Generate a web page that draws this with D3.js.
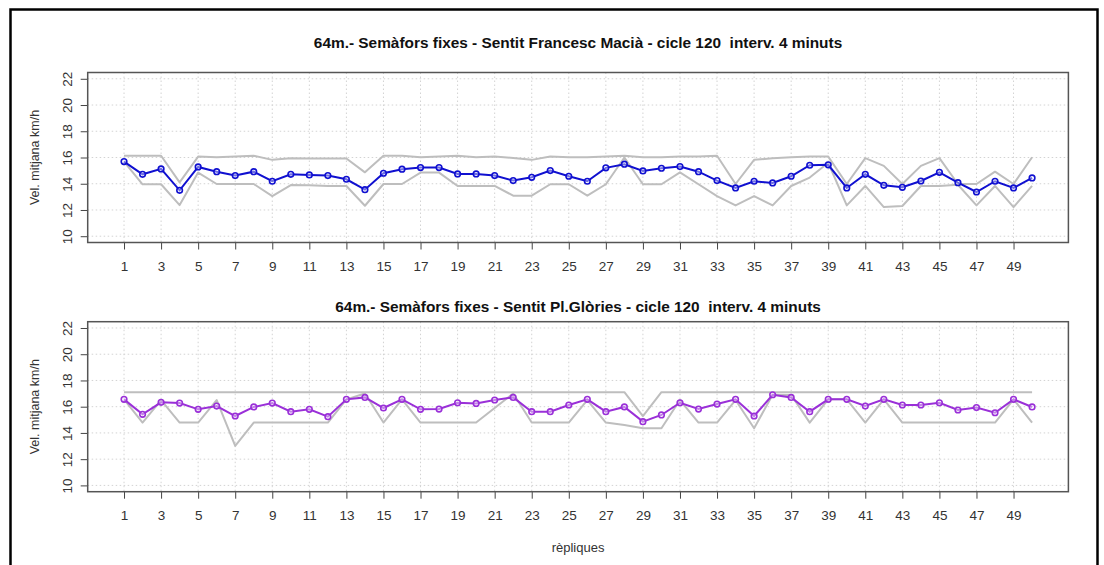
<!DOCTYPE html>
<html>
<head>
<meta charset="utf-8">
<script src="https://cdn.jsdelivr.net/npm/d3@7"></script>
<style>
  html, body { margin: 0; padding: 0; background: #fff; }
  svg { display: block; font-family: "Liberation Sans", Arial, sans-serif; }
</style>
</head>
<body>
<svg id="chart" width="1104" height="565"></svg>
<script>
// Replicas 1..50
const replicas = d3.range(1, 51);
const xTicks = d3.range(1, 50, 2);
const yTicks = [10, 12, 14, 16, 18, 20, 22];

// Direction Francesc Macià: mean speed and band limits (km/h)
const topMean = [15.69,14.72,15.13,13.50,15.28,14.92,14.62,14.92,14.19,14.72,
                 14.67,14.62,14.34,13.55,14.80,15.11,15.23,15.23,14.75,14.75,
                 14.62,14.24,14.49,15.00,14.57,14.19,15.21,15.49,14.98,15.18,
                 15.31,14.92,14.24,13.68,14.19,14.06,14.57,15.41,15.44,13.68,
                 14.72,13.88,13.73,14.21,14.87,14.08,13.37,14.19,13.68,14.44];
const topUpper = [16.13,16.13,16.13,14.10,16.07,16.02,16.07,16.13,15.82,15.95,
                  15.92,15.92,15.92,14.87,16.13,16.13,16.02,16.07,16.13,16.02,
                  16.07,15.97,15.82,16.07,16.02,16.02,16.07,16.13,16.02,16.02,
                  16.07,16.07,16.13,13.98,15.82,15.95,16.02,16.07,16.07,13.98,
                  15.95,15.36,13.98,15.36,15.95,13.98,13.98,14.92,13.98,16.02];
const topLower = [15.69,13.96,13.96,12.37,14.85,13.98,13.98,13.98,13.06,13.90,
                  13.88,13.83,13.83,12.32,13.98,13.98,14.85,14.85,13.83,13.83,
                  13.83,13.09,13.09,13.96,13.96,13.09,13.96,16.00,13.96,13.96,
                  14.87,13.96,13.06,12.35,13.06,12.35,13.83,14.47,15.60,12.35,
                  13.83,12.22,12.30,13.83,13.83,13.92,12.35,13.83,12.22,13.83];

// Direction Pl. Glòries: mean speed and band limits (km/h)
const botMean = [16.56,15.42,16.33,16.28,15.80,16.05,15.29,15.98,16.28,15.62,
                 15.80,15.24,16.56,16.71,15.90,16.56,15.80,15.82,16.30,16.25,
                 16.51,16.71,15.62,15.62,16.13,16.56,15.62,15.98,14.86,15.37,
                 16.30,15.82,16.20,16.56,15.29,16.91,16.71,15.62,16.56,16.56,
                 16.05,16.56,16.13,16.13,16.30,15.75,15.93,15.54,16.56,15.98];
const botUpper = [17.11,17.11,17.11,17.11,17.11,17.11,17.11,17.11,17.11,17.11,
                  17.11,17.11,17.11,17.11,17.11,17.11,17.11,17.11,17.11,17.11,
                  17.11,17.11,17.11,17.11,17.11,17.11,17.11,17.11,15.29,17.11,
                  17.11,17.11,17.11,17.11,17.11,17.11,17.11,17.11,17.11,17.11,
                  17.11,17.11,17.11,17.11,17.11,17.11,17.11,17.11,17.11,17.11];
const botLower = [16.56,14.79,16.51,14.79,14.79,16.51,13.01,14.79,14.79,14.79,
                  14.79,14.79,16.56,17.01,14.79,16.56,14.79,14.79,14.79,14.79,
                  15.90,17.00,14.79,14.79,14.79,16.51,14.79,14.60,14.36,14.36,
                  16.51,14.79,14.79,16.51,14.36,16.91,16.90,14.79,16.56,16.56,
                  14.79,16.56,14.79,14.79,14.79,14.79,14.79,14.79,16.56,14.79];

const titles = [
  "64m.- Semàfors fixes - Sentit Francesc Macià - cicle 120  interv. 4 minuts",
  "64m.- Semàfors fixes - Sentit Pl.Glòries - cicle 120  interv. 4 minuts"
];
const yLabel = "Vel. mitjana km/h";
const xLabel = "rèpliques";

const svg = d3.select("#chart");

// outer frame
svg.append("rect")
  .attr("x", 10.5).attr("y", 9.5)
  .attr("width", 1087).attr("height", 570)
  .attr("fill", "none").attr("stroke", "#000").attr("stroke-width", 2.5);

const left = 87.7, right = 1068.4;
const x = d3.scaleLinear().domain([-0.96, 51.96]).range([left, right]);

const panels = [
  { top: 72.5, bottom: 242.5, titleY: 47.5, mean: topMean, upper: topUpper, lower: topLower, color: "#1010d0", title: titles[0] },
  { top: 321.7, bottom: 491.7, titleY: 311.5, mean: botMean, upper: botUpper, lower: botLower, color: "#9a30d8", title: titles[1] }
];

panels.forEach(p => {
  const y = d3.scaleLinear().domain([9.52, 22.48]).range([p.bottom, p.top]);
  const g = svg.append("g");

  // dotted grid
  g.append("g").selectAll("line").data(xTicks).join("line")
    .attr("x1", d => x(d)).attr("x2", d => x(d))
    .attr("y1", p.top).attr("y2", p.bottom)
    .attr("stroke", "#d3d3d3").attr("stroke-width", 1).attr("stroke-dasharray", "1.5,2.5");
  g.append("g").selectAll("line").data(yTicks).join("line")
    .attr("x1", left).attr("x2", right)
    .attr("y1", d => y(d)).attr("y2", d => y(d))
    .attr("stroke", "#d3d3d3").attr("stroke-width", 1).attr("stroke-dasharray", "1.5,2.5");

  const line = d3.line().x((d, i) => x(replicas[i])).y(d => y(d));

  // band limits
  [p.upper, p.lower].forEach(arr => {
    g.append("path").datum(arr)
      .attr("d", line)
      .attr("fill", "none").attr("stroke", "#bebebe").attr("stroke-width", 2)
      .attr("stroke-linejoin", "round");
  });

  // mean series
  g.append("path").datum(p.mean)
    .attr("d", line)
    .attr("fill", "none").attr("stroke", p.color).attr("stroke-width", 2);
  g.append("g").selectAll("circle").data(p.mean).join("circle")
    .attr("cx", (d, i) => x(replicas[i])).attr("cy", d => y(d))
    .attr("r", 2.8)
    .attr("fill", "#fff").attr("fill-opacity", 0.4)
    .attr("stroke", p.color).attr("stroke-width", 1.6);

  // axes
  const xAxis = g.append("g")
    .attr("transform", `translate(0,${p.bottom})`)
    .call(d3.axisBottom(x).tickValues(xTicks).tickSize(7).tickPadding(12));
  xAxis.select(".domain").remove();
  xAxis.selectAll("line").attr("stroke", "#444");
  xAxis.selectAll("text").attr("font-size", 13.5).attr("fill", "#333")
    .attr("font-family", "Liberation Sans, Arial, sans-serif");

  const yAxis = g.append("g")
    .attr("transform", `translate(${left},0)`)
    .call(d3.axisLeft(y).tickValues(yTicks).tickSize(7));
  yAxis.select(".domain").remove();
  yAxis.selectAll("line").attr("stroke", "#444");
  yAxis.selectAll("text")
    .attr("x", 0).attr("dy", 0)
    .attr("text-anchor", "middle")
    .attr("transform", "translate(-16,0) rotate(-90)")
    .attr("font-size", 13.5).attr("fill", "#333")
    .attr("font-family", "Liberation Sans, Arial, sans-serif");

  // plot box
  g.append("rect")
    .attr("x", left).attr("y", p.top)
    .attr("width", right - left).attr("height", p.bottom - p.top)
    .attr("fill", "none").attr("stroke", "#555").attr("stroke-width", 1.5);

  // title
  g.append("text")
    .attr("x", (left + right) / 2).attr("y", p.titleY)
    .attr("text-anchor", "middle")
    .attr("font-size", 15.4).attr("font-weight", "bold").attr("fill", "#111")
    .style("white-space", "pre")
    .text(p.title);

  // y label
  g.append("text")
    .attr("transform", `translate(39,${(p.top + p.bottom) / 2}) rotate(-90)`)
    .attr("text-anchor", "middle")
    .attr("font-size", 12.5).attr("fill", "#333")
    .text(yLabel);
});

// x label
svg.append("text")
  .attr("x", (left + right) / 2).attr("y", 551.5)
  .attr("text-anchor", "middle")
  .attr("font-size", 13).attr("fill", "#333")
  .text(xLabel);
</script>
</body>
</html>
